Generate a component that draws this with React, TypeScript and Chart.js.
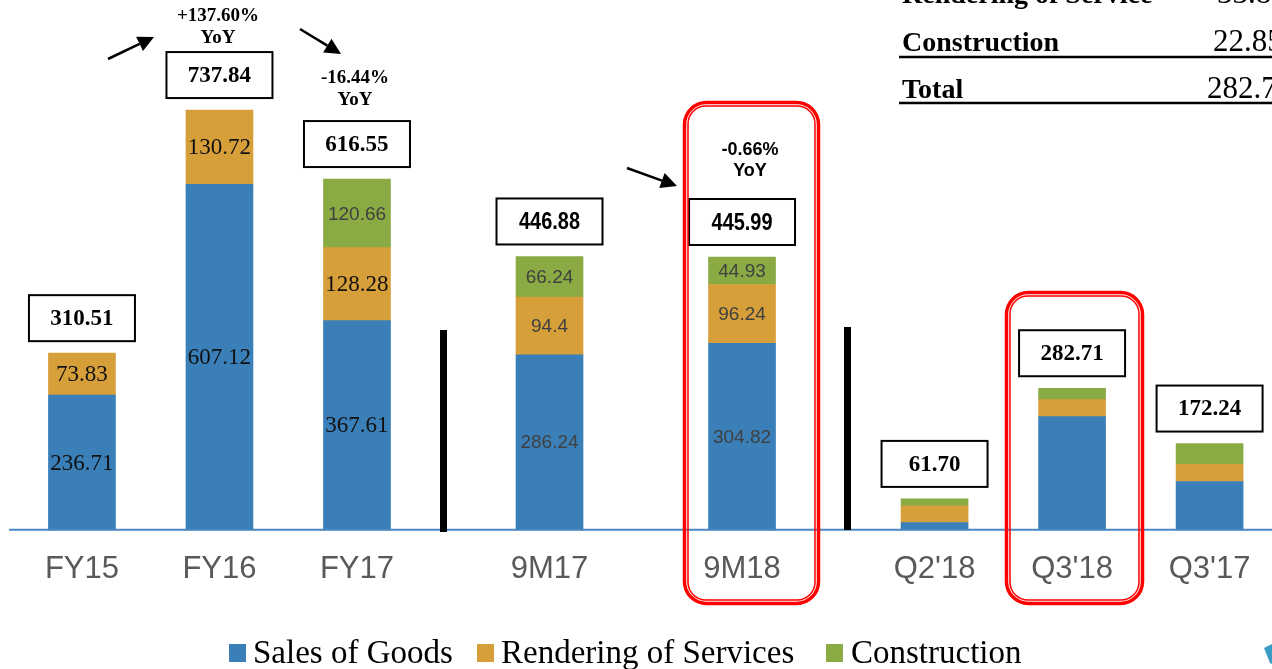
import React, { useEffect, useRef } from "react";
import { Chart, registerables } from "chart.js";

Chart.register(...registerables);

// ---------- data ----------
const fyCategories = ["FY15", "FY16", "FY17"];
const fySales = [236.71, 607.12, 367.61];
const fyServices = [73.83, 130.72, 128.28];
const fyConstruction = [null, null, 120.66];
const fyTotals = [310.51, 737.84, 616.55];

const nineMonthCategories = ["9M17", "9M18"];
const nineMonthSales = [286.24, 304.82];
const nineMonthServices = [94.4, 96.24];
const nineMonthConstruction = [66.24, 44.93];
const nineMonthTotals = [446.88, 445.99];

const quarterCategories = ["Q2'18", "Q3'18", "Q3'17"];
const quarterSales = [14.5, 226.0, 96.5];
const quarterServices = [33.5, 33.86, 34.0];
const quarterConstruction = [13.7, 22.85, 41.74];
const quarterTotals = [61.7, 282.71, 172.24];

const seriesNames = ["Sales of Goods", "Rendering of Services", "Construction"];
const yoyLabels = ["+137.60%", "-16.44%", "-0.66%"];
const tableRowLabels = ["Rendering of Service", "Construction", "Total"];
const tableRowValues = ["33.86", "22.85", "282.71"];

// ---------- styling / layout ----------
const seriesColors = ["#3a7fb8", "#d69f3a", "#8aab44"];
const slotSteps = [5, 5, 7, 7, 7, 5, 5];

const allCategories = [...fyCategories, ...nineMonthCategories, ...quarterCategories];
const slots: number[] = [0];
slotSteps.forEach((s, i) => slots.push(slots[i] + s));
const slotCount = slots[slots.length - 1] + 1;
const labels: string[] = new Array(slotCount).fill("");
allCategories.forEach((c, i) => (labels[slots[i]] = c));

const panels = [
  { axis: "yFY", offset: 0, cats: fyCategories, series: [fySales, fyServices, fyConstruction], totals: fyTotals, max: 931.3, style: "fy" },
  { axis: "yNine", offset: fyCategories.length, cats: nineMonthCategories, series: [nineMonthSales, nineMonthServices, nineMonthConstruction], totals: nineMonthTotals, max: 866.2, style: "nine" },
  { axis: "yQ", offset: fyCategories.length + nineMonthCategories.length, cats: quarterCategories, series: [quarterSales, quarterServices, quarterConstruction], totals: quarterTotals, max: 1058, style: "q" },
];

const datasets: any[] = [];
panels.forEach((p) => {
  p.series.forEach((vals, s) => {
    const data: (number | null)[] = new Array(slotCount).fill(null);
    vals.forEach((v, j) => (data[slots[p.offset + j]] = v));
    datasets.push({
      label: seriesNames[s],
      data,
      backgroundColor: seriesColors[s],
      borderWidth: 0,
      barThickness: 67,
      clip: false,
      yAxisID: p.axis,
    });
  });
});

const SERIF = "'Liberation Serif', 'Times New Roman', serif";
const SANS = "'Liberation Sans', Arial, sans-serif";

function drawArrow(ctx: CanvasRenderingContext2D, x1: number, y1: number, x2: number, y2: number) {
  const ang = Math.atan2(y2 - y1, x2 - x1);
  const hl = 16, hw = 8;
  const bx = x2 - hl * Math.cos(ang), by = y2 - hl * Math.sin(ang);
  ctx.save();
  ctx.strokeStyle = "#000";
  ctx.fillStyle = "#000";
  ctx.lineWidth = 2.5;
  ctx.beginPath();
  ctx.moveTo(x1, y1);
  ctx.lineTo(bx, by);
  ctx.stroke();
  ctx.beginPath();
  ctx.moveTo(x2, y2);
  ctx.lineTo(bx + hw * Math.sin(ang), by - hw * Math.cos(ang));
  ctx.lineTo(bx - hw * Math.sin(ang), by + hw * Math.cos(ang));
  ctx.closePath();
  ctx.fill();
  ctx.restore();
}

function roundRect(ctx: CanvasRenderingContext2D, x: number, y: number, w: number, h: number, r: number) {
  ctx.beginPath();
  ctx.moveTo(x + r, y);
  ctx.lineTo(x + w - r, y);
  ctx.arcTo(x + w, y, x + w, y + r, r);
  ctx.lineTo(x + w, y + h - r);
  ctx.arcTo(x + w, y + h, x + w - r, y + h, r);
  ctx.lineTo(x + r, y + h);
  ctx.arcTo(x, y + h, x, y + h - r, r);
  ctx.lineTo(x, y + r);
  ctx.arcTo(x, y, x + r, y, r);
  ctx.closePath();
}

function redFrame(ctx: CanvasRenderingContext2D, x1: number, y1: number, x2: number, y2: number) {
  ctx.save();
  ctx.strokeStyle = "#ff0000";
  ctx.lineWidth = 3.5;
  roundRect(ctx, x1 + 1.5, y1 + 1.5, x2 - x1 - 3, y2 - y1 - 3, 22);
  ctx.stroke();
  ctx.lineWidth = 1.5;
  roundRect(ctx, x1 + 5, y1 + 5, x2 - x1 - 10, y2 - y1 - 10, 18);
  ctx.stroke();
  ctx.restore();
}

const overlayPlugin = {
  id: "overlay",
  afterDatasetsDraw(chart: any) {
    const ctx: CanvasRenderingContext2D = chart.ctx;
    const xScale = chart.scales.x;
    const baseY = chart.chartArea.bottom;

    // baseline
    ctx.save();
    ctx.strokeStyle = "#4a88c4";
    ctx.lineWidth = 2;
    ctx.beginPath();
    ctx.moveTo(9, baseY);
    ctx.lineTo(1272, baseY);
    ctx.stroke();
    ctx.restore();

    // separators
    ctx.save();
    ctx.fillStyle = "#000";
    ctx.fillRect(440, 330, 7, 202);
    ctx.fillRect(844, 327, 7, 203);
    ctx.restore();

    // segment labels + totals boxes
    panels.forEach((p, pi) => {
      p.cats.forEach((_, j) => {
        const slot = slots[p.offset + j];
        const cx = xScale.getPixelForValue(slot);
        if (p.style !== "q") {
          p.series.forEach((vals, s) => {
            const v = vals[j];
            if (v === null || v === undefined) return;
            const el = chart.getDatasetMeta(pi * 3 + s).data[slot];
            const cy = (el.y + el.base) / 2;
            ctx.save();
            ctx.textAlign = "center";
            ctx.textBaseline = "middle";
            if (p.style === "fy" && s < 2) {
              ctx.font = `23px ${SERIF}`;
              ctx.fillStyle = "#111";
            } else {
              ctx.font = `19px ${SANS}`;
              ctx.fillStyle = "#404040";
            }
            ctx.fillText(String(v), el.x, cy + 1);
            ctx.restore();
          });
        }
        const topY = chart.scales[p.axis].getPixelForValue(p.totals[j]);
        const bw = 106, bh = 46;
        const by = topY - 12 - bh;
        ctx.save();
        ctx.fillStyle = "#fff";
        ctx.fillRect(cx - bw / 2, by, bw, bh);
        ctx.strokeStyle = "#000";
        ctx.lineWidth = 2;
        ctx.strokeRect(cx - bw / 2, by, bw, bh);
        ctx.fillStyle = "#000";
        ctx.textAlign = "center";
        ctx.textBaseline = "middle";
        const txt = p.totals[j].toFixed(2);
        if (p.style === "nine") {
          ctx.translate(cx, by + bh / 2 + 1);
          ctx.scale(0.83, 1);
          ctx.font = `bold 24px ${SANS}`;
          ctx.fillText(txt, 0, 0);
        } else {
          ctx.font = `bold 23px ${SERIF}`;
          ctx.fillText(txt, cx, by + bh / 2 + 1);
        }
        ctx.restore();
      });
    });

    // red highlight frames
    redFrame(ctx, 683, 101, 820, 605);
    redFrame(ctx, 1005, 291, 1144, 605);

    // YoY annotations
    ctx.save();
    ctx.fillStyle = "#000";
    ctx.textAlign = "center";
    ctx.textBaseline = "middle";
    ctx.font = `bold 19px ${SERIF}`;
    ctx.fillText(yoyLabels[0], 218, 16);
    ctx.fillText("YoY", 218, 38);
    ctx.fillText(yoyLabels[1], 355, 78);
    ctx.fillText("YoY", 355, 100);
    ctx.font = `bold 18px ${SANS}`;
    ctx.fillText(yoyLabels[2], 750, 150);
    ctx.fillText("YoY", 750, 171);
    ctx.restore();
    drawArrow(ctx, 108, 59, 154, 37);
    drawArrow(ctx, 300, 29, 341, 54);
    drawArrow(ctx, 627, 168, 677, 186);

    // top-right table
    ctx.save();
    ctx.fillStyle = "#000";
    ctx.textBaseline = "alphabetic";
    ctx.textAlign = "left";
    const rowY = [3, 51, 98];
    const valX = [1217, 1213, 1207];
    tableRowLabels.forEach((t, i) => {
      ctx.font = `bold 28px ${SERIF}`;
      ctx.fillText(t, 902, rowY[i]);
      ctx.font = `31px ${SERIF}`;
      ctx.fillText(tableRowValues[i], valX[i], rowY[i]);
    });
    ctx.strokeStyle = "#000";
    ctx.lineWidth = 2.5;
    [57, 103].forEach((y) => {
      ctx.beginPath();
      ctx.moveTo(899, y);
      ctx.lineTo(1272, y);
      ctx.stroke();
    });
    ctx.restore();

    // legend
    ctx.save();
    const legSquareX = [229, 477, 826];
    const legTextX = [253, 501, 851];
    seriesNames.forEach((n, i) => {
      ctx.fillStyle = seriesColors[i];
      ctx.fillRect(legSquareX[i], 644, 17, 18);
      ctx.fillStyle = "#000";
      ctx.font = `33px ${SERIF}`;
      ctx.textBaseline = "alphabetic";
      ctx.textAlign = "left";
      ctx.fillText(n, legTextX[i], 663);
    });
    ctx.restore();

    // partial logo fragment bottom-right
    ctx.save();
    ctx.fillStyle = "#3a9bc5";
    ctx.beginPath();
    ctx.moveTo(1264, 648);
    ctx.lineTo(1272, 644);
    ctx.lineTo(1272, 664);
    ctx.lineTo(1270, 663);
    ctx.closePath();
    ctx.fill();
    ctx.restore();
  },
};

export default function App() {
  const ref = useRef<HTMLCanvasElement>(null);
  useEffect(() => {
    const canvas = ref.current;
    if (!canvas) return;
    const yAxes: any = {};
    panels.forEach((p) => {
      yAxes[p.axis] = { type: "linear", display: false, min: 0, max: p.max, stacked: true };
    });
    const chart = new Chart(canvas, {
      type: "bar",
      data: { labels, datasets },
      options: {
        animation: false,
        responsive: false,
        layout: { padding: { left: 68.2, right: 45.2, top: 0, bottom: 60 } },
        plugins: { legend: { display: false }, tooltip: { enabled: false }, title: { display: false } },
        scales: {
          x: {
            type: "category",
            stacked: true,
            grid: { display: false, drawTicks: false },
            border: { display: false },
            ticks: {
              autoSkip: false,
              maxRotation: 0,
              minRotation: 0,
              padding: 21,
              color: "#595959",
              font: { family: SANS, size: 31 },
            },
          },
          ...yAxes,
        },
      } as any,
      plugins: [overlayPlugin],
    });
    return () => chart.destroy();
  }, []);
  return (
    <div style={{ position: "absolute", left: 0, top: 0, width: 1272, height: 669, background: "#fff" }}>
      <canvas ref={ref} width={1272} height={669} style={{ display: "block", width: 1272, height: 669 }} />
    </div>
  );
}
